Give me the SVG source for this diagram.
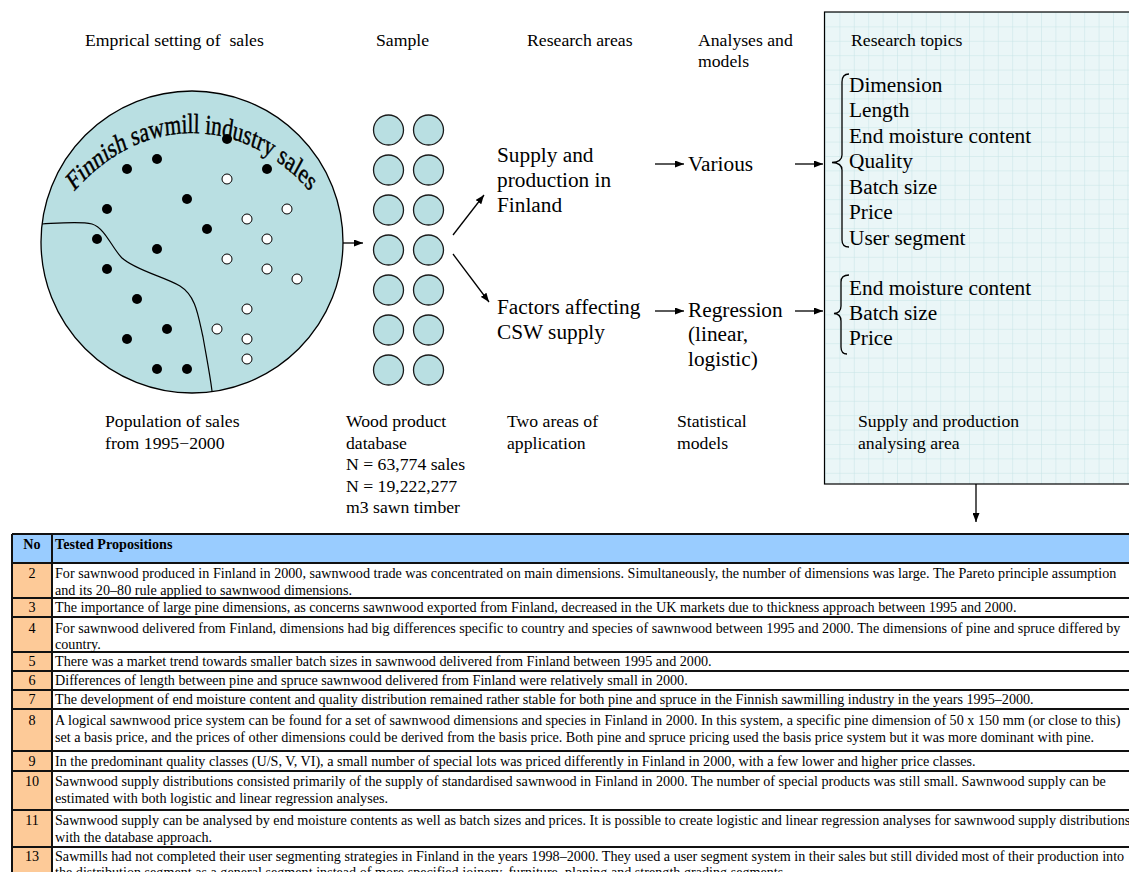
<svg xmlns="http://www.w3.org/2000/svg" width="1129" height="872" viewBox="0 0 1129 872">
  <style>
    text { font-family: "Liberation Serif", "Times New Roman", serif; fill: #000; }
    .lbl { font-size: 17.7px; }
    .big { font-size: 21.3px; }
    .tb { font-size: 14.15px; }
    .tbh { font-size: 14.15px; font-weight: bold; }
    .num { font-size: 14.15px; text-anchor: middle; }
    .conn { stroke: #000; stroke-width: 1.3; fill: none; marker-end: url(#ah); }
    .dotb { fill: #000; }
    .dotw { fill: #fff; stroke: #000; stroke-width: 1; }
    .samp { fill: #b9dfe2; stroke: #1a1a1a; stroke-width: 1.3; }
    .rule { stroke: #111; stroke-width: 2; }
    .brace { fill: none; stroke: #000; stroke-width: 1.3; }
  </style>
  <defs>
    <marker id="ah" viewBox="0 0 9 7" refX="9" refY="3.5" markerWidth="9" markerHeight="7" markerUnits="userSpaceOnUse" orient="auto">
      <path d="M0,0 L9,3.5 L0,7 z" fill="#000"/>
    </marker>
    <pattern id="grid" patternUnits="userSpaceOnUse" x="825" y="12" width="14.4" height="14.4">
      <rect width="14.4" height="14.4" fill="#eaf6f7"/>
      <path d="M0,0 H14.4 M0,0 V14.4" stroke="#c6e4e6" stroke-width="1" fill="none"/>
    </pattern>
    <!-- arch baseline, drawn in the vertically stretched frame of the title -->
    <path id="arc" d="M 15.2,309.8 A 176.8,176.8 0 0 1 368.8,309.8"/>
  </defs>

  <!-- column headings -->
  <g id="headings" class="lbl">
    <text x="85" y="46" xml:space="preserve">Emprical setting of  sales</text>
    <text x="376" y="46">Sample</text>
    <text x="527" y="46">Research areas</text>
    <text x="698" y="46">Analyses and</text>
    <text x="698" y="67">models</text>
  </g>

  <!-- research topics panel -->
  <g id="topics-panel">
    <rect x="824.5" y="12" width="320" height="472" fill="url(#grid)" stroke="#000" stroke-width="1.2"/>
    <text class="lbl" x="851" y="46">Research topics</text>
    <g class="big">
      <text x="849" y="91.5">Dimension</text>
      <text x="849" y="117">Length</text>
      <text x="849" y="142.6">End moisture content</text>
      <text x="849" y="168.2">Quality</text>
      <text x="849" y="193.8">Batch size</text>
      <text x="849" y="219.4">Price</text>
      <text x="849" y="245">User segment</text>
      <text x="849" y="295">End moisture content</text>
      <text x="849" y="320">Batch size</text>
      <text x="849" y="345">Price</text>
    </g>
    <path class="brace" d="M849,74 Q842,74 842,82 L842,155 Q842,162 832,162.5 Q842,163 842,170 L842,240 Q842,247 849,247"/>
    <path class="brace" d="M849,275 Q841,275 841,282 L841,306 Q841,313 834,313.5 Q841,314 841,321 L841,347 Q841,354 847,354"/>
    <text class="lbl" x="858" y="427">Supply and production</text>
    <text class="lbl" x="858" y="448.5">analysing area</text>
  </g>

  <!-- population of sales -->
  <g id="population">
    <circle cx="192" cy="242" r="151" fill="#b9dfe2" stroke="#000" stroke-width="1.3"/>
    <path d="M42,224 C60,223 80,221 92,224 C105,228 112,248 122,258 C135,270 165,277 180,286 C196,296 198,315 203,337 C207,360 210,375 212,391" fill="none" stroke="#000" stroke-width="1.2"/>
    <g transform="translate(0,133) scale(1,1.3) translate(0,-133)">
      <text class="big" stroke="#000" stroke-width="0.35"><textPath href="#arc" startOffset="50%" text-anchor="middle">Finnish sawmill industry sales</textPath></text>
    </g>
    <g>
      <circle class="dotb" cx="227" cy="139" r="5"/>
      <circle class="dotb" cx="157" cy="159" r="5"/>
      <circle class="dotb" cx="127" cy="169" r="5"/>
      <circle class="dotb" cx="267" cy="169" r="5"/>
      <circle class="dotb" cx="187" cy="199" r="5"/>
      <circle class="dotb" cx="107" cy="209" r="5"/>
      <circle class="dotb" cx="207" cy="229" r="5"/>
      <circle class="dotb" cx="97" cy="239" r="5"/>
      <circle class="dotb" cx="157" cy="249" r="5"/>
      <circle class="dotb" cx="107" cy="269" r="5"/>
      <circle class="dotb" cx="137" cy="299" r="5"/>
      <circle class="dotb" cx="167" cy="329" r="5"/>
      <circle class="dotb" cx="127" cy="339" r="5"/>
      <circle class="dotb" cx="157" cy="369" r="5"/>
      <circle class="dotb" cx="187" cy="369" r="5"/>
      <circle class="dotw" cx="227" cy="179" r="5"/>
      <circle class="dotw" cx="287" cy="209" r="5"/>
      <circle class="dotw" cx="247" cy="219" r="5"/>
      <circle class="dotw" cx="267" cy="239" r="5"/>
      <circle class="dotw" cx="227" cy="259" r="5"/>
      <circle class="dotw" cx="267" cy="269" r="5"/>
      <circle class="dotw" cx="297" cy="279" r="5"/>
      <circle class="dotw" cx="247" cy="309" r="5"/>
      <circle class="dotw" cx="217" cy="329" r="5"/>
      <circle class="dotw" cx="247" cy="339" r="5"/>
      <circle class="dotw" cx="247" cy="359" r="5"/>
    </g>
    <text class="lbl" x="105" y="427">Population of sales</text>
    <text class="lbl" x="105" y="448.5">from 1995−2000</text>
  </g>

  <!-- sample -->
  <g id="sample">
    <circle class="samp" cx="388.5" cy="130" r="15"/><circle class="samp" cx="428.5" cy="130" r="15"/>
    <circle class="samp" cx="388.5" cy="170" r="15"/><circle class="samp" cx="428.5" cy="170" r="15"/>
    <circle class="samp" cx="388.5" cy="210" r="15"/><circle class="samp" cx="428.5" cy="210" r="15"/>
    <circle class="samp" cx="388.5" cy="250" r="15"/><circle class="samp" cx="428.5" cy="250" r="15"/>
    <circle class="samp" cx="388.5" cy="290" r="15"/><circle class="samp" cx="428.5" cy="290" r="15"/>
    <circle class="samp" cx="388.5" cy="330" r="15"/><circle class="samp" cx="428.5" cy="330" r="15"/>
    <circle class="samp" cx="388.5" cy="370" r="15"/><circle class="samp" cx="428.5" cy="370" r="15"/>
    <g class="lbl">
      <text x="346" y="427">Wood product</text>
      <text x="346" y="448.5">database</text>
      <text x="346" y="470">N = 63,774 sales</text>
      <text x="346" y="491.5">N = 19,222,277</text>
      <text x="346" y="513">m3 sawn timber</text>
    </g>
  </g>

  <!-- research areas -->
  <g id="area-supply" class="big">
    <text x="497" y="161.5">Supply and</text>
    <text x="497" y="187">production in</text>
    <text x="497" y="212">Finland</text>
  </g>
  <g id="area-factors" class="big">
    <text x="497" y="314">Factors affecting</text>
    <text x="497" y="339">CSW supply</text>
  </g>
  <g id="areas-caption" class="lbl">
    <text x="507" y="427">Two areas of</text>
    <text x="507" y="448.5">application</text>
  </g>

  <!-- analyses -->
  <g id="model-various" class="big">
    <text x="688" y="171">Various</text>
  </g>
  <g id="model-regression" class="big">
    <text x="688" y="316.5">Regression</text>
    <text x="688" y="341">(linear,</text>
    <text x="688" y="365.5">logistic)</text>
  </g>
  <g id="models-caption" class="lbl">
    <text x="677" y="427">Statistical</text>
    <text x="677" y="448.5">models</text>
  </g>

  <!-- connectors -->
  <g id="connectors">
    <line class="conn" x1="343" y1="243" x2="363" y2="243"/>
    <line class="conn" x1="453" y1="235" x2="484" y2="195"/>
    <line class="conn" x1="453" y1="254" x2="489" y2="302"/>
    <line class="conn" x1="655" y1="164" x2="684" y2="164"/>
    <line class="conn" x1="795" y1="164" x2="823" y2="164"/>
    <line class="conn" x1="655" y1="311" x2="684" y2="311"/>
    <line class="conn" x1="795" y1="311" x2="823" y2="311"/>
    <line class="conn" x1="976" y1="484" x2="976" y2="522"/>
  </g>

  <!-- propositions table -->
  <g id="propositions">
    <rect x="12" y="534" width="1130" height="29" fill="#99ccff"/>
    <rect x="12" y="563" width="40" height="320" fill="#fdca98"/>
    <rect x="52" y="563" width="1090" height="320" fill="#fff"/>
    <g class="rule">
      <line x1="12" y1="534" x2="1129" y2="534"/>
      <line x1="12" y1="563" x2="1129" y2="563"/>
      <line x1="12" y1="598" x2="1129" y2="598"/>
      <line x1="12" y1="617" x2="1129" y2="617"/>
      <line x1="12" y1="652" x2="1129" y2="652"/>
      <line x1="12" y1="671" x2="1129" y2="671"/>
      <line x1="12" y1="690" x2="1129" y2="690"/>
      <line x1="12" y1="709" x2="1129" y2="709"/>
      <line x1="12" y1="751" x2="1129" y2="751"/>
      <line x1="12" y1="771" x2="1129" y2="771"/>
      <line x1="12" y1="810" x2="1129" y2="810"/>
      <line x1="12" y1="847" x2="1129" y2="847"/>
      <line x1="12" y1="534" x2="12" y2="872"/>
      <line x1="52" y1="534" x2="52" y2="872"/>
    </g>
    <text class="tbh" x="32" y="548.5" text-anchor="middle">No</text>
    <text class="tbh" x="55" y="548.5">Tested Propositions</text>

    <text class="num" x="32" y="578">2</text>
    <text class="tb" x="55" y="578">For sawnwood produced in Finland in 2000, sawnwood trade was concentrated on main dimensions. Simultaneously, the number of dimensions was large. The Pareto principle assumption</text>
    <text class="tb" x="55" y="594.5">and its 20–80 rule applied to sawnwood dimensions.</text>

    <text class="num" x="32" y="612">3</text>
    <text class="tb" x="55" y="612">The importance of large pine dimensions, as concerns sawnwood exported from Finland, decreased in the UK markets due to thickness approach between 1995 and 2000.</text>

    <text class="num" x="32" y="632.5">4</text>
    <text class="tb" x="55" y="632.5">For sawnwood delivered from Finland, dimensions had big differences specific to country and species of sawnwood between 1995 and 2000. The dimensions of pine and spruce differed by</text>
    <text class="tb" x="55" y="649">country.</text>

    <text class="num" x="32" y="666">5</text>
    <text class="tb" x="55" y="666">There was a market trend towards smaller batch sizes in sawnwood delivered from Finland between 1995 and 2000.</text>

    <text class="num" x="32" y="685">6</text>
    <text class="tb" x="55" y="685">Differences of length between pine and spruce sawnwood delivered from Finland were relatively small in 2000.</text>

    <text class="num" x="32" y="704">7</text>
    <text class="tb" x="55" y="704">The development of end moisture content and quality distribution remained rather stable for both pine and spruce in the Finnish sawmilling industry in the years 1995–2000.</text>

    <text class="num" x="32" y="724.5">8</text>
    <text class="tb" x="55" y="724.5">A logical sawnwood price system can be found for a set of sawnwood dimensions and species in Finland in 2000. In this system, a specific pine dimension of 50 x 150 mm (or close to this)</text>
    <text class="tb" x="55" y="741.5">set a basis price, and the prices of other dimensions could be derived from the basis price. Both pine and spruce pricing used the basis price system but it was more dominant with pine.</text>

    <text class="num" x="32" y="765.5">9</text>
    <text class="tb" x="55" y="765.5">In the predominant quality classes (U/S, V, VI), a small number of special lots was priced differently in Finland in 2000, with a few lower and higher price classes.</text>

    <text class="num" x="32" y="786">10</text>
    <text class="tb" x="55" y="786">Sawnwood supply distributions consisted primarily of the supply of standardised sawnwood in Finland in 2000. The number of special products was still small. Sawnwood supply can be</text>
    <text class="tb" x="55" y="803">estimated with both logistic and linear regression analyses.</text>

    <text class="num" x="32" y="825">11</text>
    <text class="tb" x="55" y="825">Sawnwood supply can be analysed by end moisture contents as well as batch sizes and prices. It is possible to create logistic and linear regression analyses for sawnwood supply distributions</text>
    <text class="tb" x="55" y="842">with the database approach.</text>

    <text class="num" x="32" y="860.5">13</text>
    <text class="tb" x="55" y="860.5">Sawmills had not completed their user segmenting strategies in Finland in the years 1998–2000. They used a user segment system in their sales but still divided most of their production into</text>
    <text class="tb" x="55" y="877">the distribution segment as a general segment instead of more specified joinery, furniture, planing and strength grading segments.</text>
  </g>
</svg>
